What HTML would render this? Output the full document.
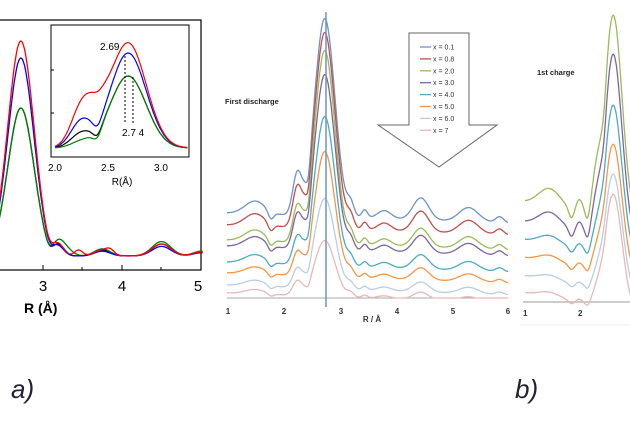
<!DOCTYPE html>
<html><head><meta charset="utf-8">
<style>
html,body{margin:0;padding:0;background:#fff;width:630px;height:426px;overflow:hidden}
svg{display:block}
text{font-family:"Liberation Sans",sans-serif}
</style></head><body>
<svg id="s" width="630" height="426" viewBox="0 0 630 426" xmlns="http://www.w3.org/2000/svg">
<rect x="-2" y="20" width="203" height="250" fill="none" stroke="#000" stroke-width="1.2"/>
<g stroke="#000" stroke-width="1">
<line x1="43" y1="270" x2="43" y2="265"/><line x1="122" y1="270" x2="122" y2="265"/><line x1="201" y1="270" x2="201" y2="265"/>
<line x1="82" y1="270" x2="82" y2="267"/><line x1="161" y1="270" x2="161" y2="267"/>
</g>
<text x="43" y="291" font-size="15" text-anchor="middle">3</text>
<text x="122" y="291" font-size="15" text-anchor="middle">4</text>
<text x="198" y="291" font-size="15" text-anchor="middle">5</text>
<text x="24" y="313" font-size="14" font-weight="bold">R (Å)</text>
<g id="amain"></g>
<rect x="51" y="25" width="138" height="132" fill="#fff" stroke="#000" stroke-width="1"/>
<g id="ainset"></g>
<g stroke="#000" stroke-width="1" stroke-dasharray="2,2"><line x1="125" y1="56" x2="125" y2="124"/><line x1="133" y1="77" x2="133" y2="124"/></g>
<text x="100" y="50" font-size="10">2.69</text>
<text x="122" y="136" font-size="10">2.7 4</text>
<text x="55" y="171" font-size="10" text-anchor="middle">2.0</text>
<text x="108" y="171" font-size="10" text-anchor="middle">2.5</text>
<text x="161" y="171" font-size="10" text-anchor="middle">3.0</text>
<text x="122" y="185" font-size="10" text-anchor="middle">R(Å)</text>
<g stroke="#000"><line x1="51" y1="70" x2="54" y2="70"/><line x1="51" y1="113" x2="54" y2="113"/></g>

<line x1="227" y1="298" x2="508" y2="298" stroke="#aaa" stroke-width="1"/>
<g id="bcurves"></g>
<line x1="326" y1="12" x2="326" y2="307" stroke="#6d93c8" stroke-width="1.5"/>
<g font-size="8" fill="#333" text-anchor="middle" font-weight="bold">
<text x="228" y="314">1</text><text x="284" y="314">2</text><text x="341" y="314">3</text><text x="397" y="314">4</text><text x="453" y="314">5</text><text x="508" y="314">6</text>
<text x="372" y="322">R / Å</text>
</g>
<text x="225" y="104" font-size="7.5" font-weight="bold" fill="#222">First discharge</text>
<polygon points="409,33 469,33 469,125 497,125 439,167 378,125 409,125" fill="#fff" stroke="#666" stroke-width="1"/>
<g id="legend" font-size="7" fill="#333"></g>

<line x1="523" y1="302" x2="630" y2="302" stroke="#bbb" stroke-width="1.5"/>
<line x1="520" y1="325" x2="630" y2="325" stroke="#eee" stroke-width="1"/>
<g id="ccurves"></g>
<g font-size="8" fill="#333" font-weight="bold"><text x="523" y="316">1</text><text x="578" y="316">2</text></g>
<text x="537" y="75" font-size="7.5" font-weight="bold" fill="#222">1st charge</text>

<text x="11" y="398" font-size="26" font-style="italic" font-family="Liberation Serif,serif" fill="#223">a)</text>
<text x="515" y="398" font-size="26" font-style="italic" font-family="Liberation Serif,serif" fill="#223">b)</text>
</svg>
<script>
function g(x,m,s){return Math.exp(-(x-m)*(x-m)/(2*s*s));}
function path(fx,fy,r0,r1,n){var d="";for(var i=0;i<=n;i++){var r=r0+(r1-r0)*i/n;d+=(i?"L":"M")+fx(r).toFixed(1)+","+fy(r).toFixed(1);}return d;}
var NS="http://www.w3.org/2000/svg";
function add(id,d,c,w){var p=document.createElementNS(NS,"path");p.setAttribute("d",d);p.setAttribute("fill","none");p.setAttribute("stroke",c);p.setAttribute("stroke-width",w||1.3);document.getElementById(id).appendChild(p);}
var am=[["#000",148,1,0],["#008000",148,1.2,1],["#0000ff",198,0.8,2],["#ff0000",215,1,3]];
am.forEach(function(a){
 var fx=function(r){return 43+(r-3)*79;};
 var fy=function(r){var y=256-a[1]*g(r,2.72,0.165);
  y-=a[2]*(10*g(r,3.2,0.07)+6*g(r,3.75,0.1)+12*g(r,4.5,0.12)+4*g(r,5,0.1));
  y+=5*g(r,3.07,0.05);
  if(a[3]==3)y-=6*g(r,3.45,0.05)+4*g(r,3.85,0.05);
  if(a[3]==1)y-=6*g(r,3.3,0.08);
  return y;};
 add("amain",path(fx,fy,2.4,5.02,200),a[0],1.3);
});
var ai=[["#000",72,14,0],["#008000",72,6,0],["#0000ff",95,26,0],["#ff0000",105,38,1]];
ai.forEach(function(a){
 var fx=function(r){return 55+(r-2)*106;};
 var fy=function(r){var y=148-a[1]*g(r,2.69,0.17)-a[2]*g(r,2.25,0.1)+8*g(r,2.4,0.04)*(a[3]?0.3:1);
  if(a[3])y-=22*g(r,2.4,0.1);
  return Math.min(y,153);};
 add("ainset",path(fx,fy,2.0,3.25,150),a[0],1.2);
});
var bc=[["#6d93c8",213,15,1],["#c0504d",225,29,.95],["#9bbb59",240,47,.85],["#8064a2",246,71,.8],["#4bacc6",262,113,.65],["#f79646",273,148,.55],["#b9cde5",285,195,.45],["#e6b9b8",293,237,.35]];
var labels=["x = 0.1","x = 0.8","x = 2.0","x = 3.0","x = 4.0","x = 5.0","x = 6.0","x = 7"];
bc.forEach(function(a,i){
 var fx=function(r){return 227+(r-1)*56.2;};
 var base=a[1],pk=a[2],k=a[3];
 var fy=function(r){var y=base+(r-1)*2-(base-pk)*g(r,2.74,0.18);
  y-=k*(13*g(r,1.5,0.18)-8*g(r,1.78,0.05)+40*g(r,2.25,0.08)-15*g(r,2.45,0.04)+12*g(r,3.2,0.06)+8*g(r,3.45,0.05)+8*g(r,3.8,0.12)+22*g(r,4.45,0.14)+14*g(r,5.3,0.17)+6*g(r,5.85,0.07));
  return Math.min(y,298);};
 add("bcurves",path(fx,fy,1,6,300),a[0],1.3);
 var yy=47+i*11.9;
 var l=document.createElementNS(NS,"line");l.setAttribute("x1",420);l.setAttribute("x2",431);l.setAttribute("y1",yy);l.setAttribute("y2",yy);l.setAttribute("stroke",a[0]);l.setAttribute("stroke-width",1.3);document.getElementById("legend").appendChild(l);
 var t=document.createElementNS(NS,"text");t.setAttribute("x",433);t.setAttribute("y",yy+2.5);t.textContent=labels[i];document.getElementById("legend").appendChild(t);
});
var cc=[["#9bbb59",202,17,1],["#8064a2",222,56,.8],["#4bacc6",240,107,.5],["#f79646",258,146,.4],["#b9cde5",276,176,.3],["#e6b9b8",293,196,.3]];
cc.forEach(function(a){
 var fx=function(r){return 525+(r-1)*54.5;};
 var base=a[1],pk=a[2],k=a[3];
 var fy=function(r){var y=base+10*(r-1)-(base+18-pk)*g(r,2.62,0.16);
  y-=k*(18*g(r,1.45,0.2)-10*g(r,1.85,0.05)+12*g(r,2.0,0.06)-10*g(r,2.15,0.04)+26*g(r,2.3,0.07)-12*g(r,2.45,0.04));
  return y;};
 add("ccurves",path(fx,fy,1,3.1,150),a[0],1.3);
});
</script>
</body></html>
